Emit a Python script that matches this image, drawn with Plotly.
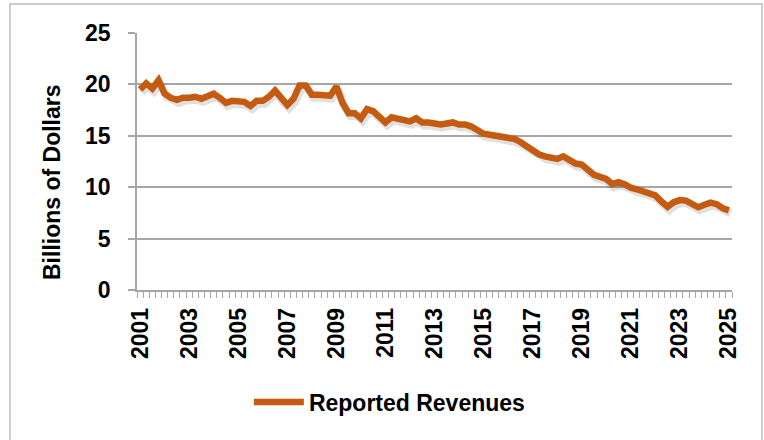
import plotly.graph_objects as go

# Quarterly reported revenues, 2001 Q1 .. 2025 Q1 (billions of dollars)
start_year = 2001
revenues = [
    19.5, 20.1, 19.6, 20.4, 19.1, 18.7, 18.5, 18.7, 18.7, 18.8,
    18.6, 18.8, 19.1, 18.7, 18.2, 18.4, 18.4, 18.3, 17.9, 18.4,
    18.4, 18.8, 19.4, 18.6, 18.0, 18.6, 19.9, 19.9, 19.0, 19.0,
    19.0, 18.9, 19.8, 18.2, 17.2, 17.2, 16.7, 17.6, 17.4, 16.9,
    16.3, 16.8, 16.7, 16.6, 16.4, 16.7, 16.3, 16.3, 16.2, 16.1,
    16.2, 16.3, 16.1, 16.1, 15.9, 15.5, 15.2, 15.1, 15.0, 15.0,
    14.9, 14.7, 14.4, 14.0, 13.7, 13.2, 13.0, 12.9, 12.75, 13.0,
    12.6, 12.3, 12.2, 11.7, 11.2, 11.0, 10.8, 10.3, 10.5, 10.3,
    9.95, 9.8, 9.65, 9.5, 9.2, 8.6, 8.1, 8.55, 8.75, 8.7,
    8.45, 8.05, 8.3, 8.5, 8.35, 7.95, 7.75,
]
quarters = [start_year + q / 4 for q in range(len(revenues))]
tick_years = list(range(2001, 2026, 2))
tick_labels = [str(y) for y in tick_years]
y_ticks = [0, 5, 10, 15, 20, 25]
series_name = "Reported Revenues"
y_title = "Billions of Dollars"

line_color = "#C55A11"
grid_color = "#A6A6A6"
font_family = "Liberation Sans, Arial, sans-serif"

fig = go.Figure()
# soft drop shadow beneath the line (same data, slight offset)
fig.add_trace(go.Scatter(
    x=[q + 0.07 for q in quarters], y=[v - 0.3 for v in revenues],
    mode="lines", showlegend=False, hoverinfo="skip",
    line=dict(color="rgba(0,0,0,0.12)", width=8),
))
fig.add_trace(go.Scatter(
    x=quarters, y=revenues, mode="lines", name=series_name,
    line=dict(color=line_color, width=6.5),
))

fig.update_layout(
    width=764, height=440,
    margin=dict(l=137, r=32, t=33, b=150),
    paper_bgcolor="white", plot_bgcolor="white",
    font=dict(family=font_family, color="black"),
    showlegend=True,
    legend=dict(
        x=0.425, y=-0.436, xanchor="center", yanchor="middle",
        orientation="h", bgcolor="rgba(0,0,0,0)",
        font=dict(size=23, family=font_family, color="black", weight="bold"),
        itemwidth=50,
    ),
    xaxis=dict(
        range=[start_year - 0.125, 2025.125],
        tickmode="array", tickvals=tick_years, ticktext=tick_labels,
        tickangle=-90, ticks="",
        tickfont=dict(size=23, family=font_family, weight="bold", color="black"),
        ticklabelstandoff=7,
        showgrid=False, zeroline=False, automargin=False,
        showline=True, linecolor=grid_color, linewidth=1.5,
        minor=dict(tick0=start_year - 0.125, dtick=0.25, ticks="outside",
                   ticklen=6, tickcolor=grid_color, tickwidth=1, showgrid=False),
    ),
    yaxis=dict(
        range=[0, 25], tickmode="array", tickvals=y_ticks,
        ticks="outside", ticklen=7, tickcolor=grid_color, tickwidth=1.5,
        tickfont=dict(size=23, family=font_family, weight="bold", color="black"),
        ticklabelstandoff=13, automargin=False,
        showgrid=True, gridcolor=grid_color, gridwidth=1.5,
        zeroline=False, showline=True, linecolor=grid_color, linewidth=1.5,
    ),
    annotations=[dict(
        text=y_title, textangle=-90, showarrow=False,
        xref="paper", yref="paper",
        x=(52 - 137) / 595, y=(290 - 182) / 257,
        xanchor="center", yanchor="middle",
        font=dict(size=23, family=font_family, weight="bold", color="black"),
    )],
    shapes=[dict(
        type="rect", xref="paper", yref="paper",
        x0=(10 - 137) / 595, x1=(762 - 137) / 595,
        y0=(290 - 445) / 257, y1=(290 - 4) / 257,
        line=dict(color="#BFBFBF", width=1.5), fillcolor="rgba(0,0,0,0)",
        layer="below",
    )],
)

fig.write_html("out.html", config={"displayModeBar": False},
               post_script="document.body.style.margin='0px';")
